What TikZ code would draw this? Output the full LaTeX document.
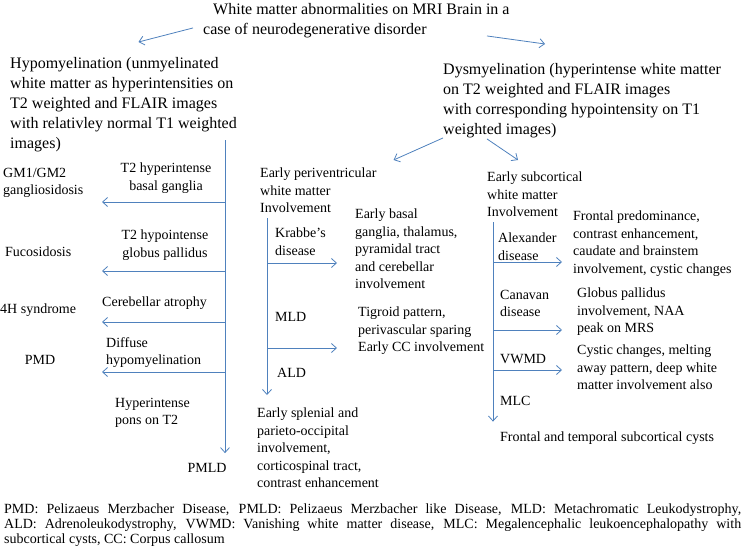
\documentclass[tikz,border=0pt]{standalone}
\usepackage{fontspec}
\setmainfont{Liberation Serif}
\usetikzlibrary{arrows.meta}
\definecolor{arrblue}{RGB}{79,129,189}
\newcommand{\bigtxt}{\fontsize{16}{20}\selectfont}
\newcommand{\smalltxt}{\fontsize{14}{17.5}\selectfont}
\newcommand{\notetxt}{\fontsize{14}{15}\selectfont}

\begin{document}
\begin{tikzpicture}[x=1pt,y=-1pt,
  big/.style={font=\bigtxt, inner sep=0pt, align=left, anchor=north west},
  lbl/.style={font=\smalltxt, inner sep=0pt, align=left, anchor=north west},
  one/.style={font=\smalltxt, inner sep=0pt, anchor=base west},
  arr/.style={arrblue, line width=0.8pt, -{Straight Barb[length=5pt,width=9pt]}}]

\useasboundingbox (0,0) rectangle (745,554);

% top of the scheme
{
\node[big] (title) at (203,3) {\hspace*{10pt}White matter abnormalities on MRI Brain in a\\case of neurodegenerative disorder};
\node[big] (hypo) at (10,57) {Hypomyelination (unmyelinated\\white matter as hyperintensities on\\T2 weighted and FLAIR images\\with relativley normal T1 weighted\\images)};
\node[big] (dys) at (443,63) {Dysmyelination (hyperintense white matter\\on T2 weighted and FLAIR images\\with corresponding hypointensity on T1\\weighted images)};

\draw[arr] ([xshift=-10pt,yshift=10pt]title.south west) -- ([xshift=15pt,yshift=15pt]hypo.north);
\draw[arr] ([xshift=284pt,yshift=2pt]title.south west) -- ([xshift=-37pt,yshift=19pt]dys.north);
}

% hypomyelination branch
{
\node[lbl] (gm) at (3,168) {GM1/GM2\\gangliosidosis};
\node[one] (fuc) at (5,256.5) {Fucosidosis};
\node[one] (hfour) at (0,313.5) {4H syndrome};
\node[one, anchor=base] (pmd) at (40,364.5) {PMD};

\node[lbl, align=center, anchor=north] (bg) at (166,163) {T2 hyperintense\\basal ganglia};
\node[lbl, align=center, anchor=north] (gpal) at (165,230) {T2 hypointense\\globus pallidus};
\node[one] (cereb) at (102,306.5) {Cerebellar atrophy};
\node[lbl] (diff) at (106,337) {Diffuse\\hypomyelination};
\node[lbl] (pons) at (115,398) {Hyperintense\\pons on T2};
\node[one, anchor=base] (pmld) at (207,472.5) {PMLD};

\coordinate (hT) at (225,140);
\draw[arr] (hT) -- ([yshift=10pt]hT |- pmld.north);
\foreach \y in {202,271,322,372}
  \draw[arr] (225,\y) -- (102,\y);
}

% periventricular branch
{
\node[lbl] (pv) at (260,168) {Early periventricular\\white matter\\Involvement};
\node[lbl] (kr) at (275,228) {Krabbe’s\\disease};
\node[one] (mld) at (275,321.5) {MLD};
\node[one] (ald) at (277,377.5) {ALD};
\node[lbl] (eb) at (355,209) {Early basal\\ganglia, thalamus,\\pyramidal tract\\and cerebellar\\involvement};
\node[lbl] (tg) at (358,307) {Tigroid pattern,\\perivascular sparing\\Early CC involvement};
\node[lbl] (es) at (257,408) {Early splenial and\\parieto-occipital\\involvement,\\corticospinal tract,\\contrast enhancement};

\coordinate (pT) at (267,218);
\draw[arr] (pT) -- ([yshift=13pt]pT |- es.north);
\foreach \y in {263,348}
  \draw[arr] (267,\y) -- (337,\y);
}

% subcortical branch
{
\node[lbl] (sc) at (487,172) {Early subcortical\\white matter\\Involvement};
\node[lbl] (alex) at (498,233) {Alexander\\disease};
\node[lbl] (can) at (500,290) {Canavan\\disease};
\node[one] (vw) at (500,363.5) {VWMD};
\node[one] (mlc) at (500,405.5) {MLC};
\node[lbl] (fp) at (573,211) {Frontal predominance,\\contrast enhancement,\\caudate and brainstem\\involvement, cystic changes};
\node[lbl] (gp) at (577,288) {Globus pallidus\\involvement, NAA\\peak on MRS};
\node[lbl] (cy) at (577,345) {Cystic changes, melting\\away pattern, deep white\\matter involvement also};
\node[one] (ft) at (500,441.5) {Frontal and temporal subcortical cysts};

\coordinate (sT) at (493,222);
\draw[arr] (sT) -- ([yshift=10pt]sT |- ft.north);
\foreach \y in {262,330,370}
  \draw[arr] (493,\y) -- (562,\y);
}

\draw[arr] (dys.south west) -- ([xshift=17pt,yshift=8pt]pv.north east);
\draw[arr] ([xshift=44pt,yshift=-1pt]dys.south west) -- ([xshift=31pt,yshift=12pt]sc.north west);

% abbreviations
\node[inner sep=0pt, align=left, anchor=north west, font=\notetxt] (note) at (4,504)
  {\makebox[737pt][s]{PMD: Pelizaeus Merzbacher Disease, PMLD: Pelizaeus Merzbacher like Disease, MLD: Metachromatic Leukodystrophy,}\\
   \makebox[737pt][s]{ALD: Adrenoleukodystrophy, VWMD: Vanishing white matter disease, MLC: Megalencephalic leukoencephalopathy with}\\
   subcortical cysts, CC: Corpus callosum};

\end{tikzpicture}
\end{document}
